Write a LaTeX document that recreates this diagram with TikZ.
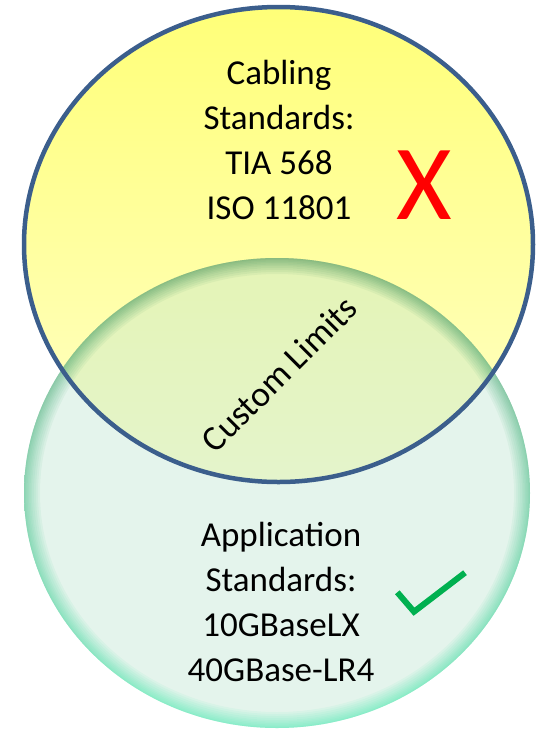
\documentclass[tikz,border=0pt]{standalone}
\usepackage{fontspec}
\setmainfont{Carlito}
\definecolor{yelTop}{RGB}{255,255,120}
\definecolor{yelBot}{RGB}{255,255,200}
\definecolor{mintC}{RGB}{191,229,209}
\definecolor{glowTop}{RGB}{60,140,85}
\definecolor{glowBot}{RGB}{60,235,175}
\definecolor{bordBlue}{RGB}{59,94,140}
\definecolor{chkGreen}{RGB}{0,176,80}
\tikzset{
  lbl/.style={inner sep=0pt, align=center, font=\fontsize{35}{45}\selectfont},
  diag/.style={inner sep=0pt, font=\fontsize{35.5}{42}\selectfont, rotate=45}
}
\begin{document}
\begin{tikzpicture}[x=1pt,y=-1pt]
\useasboundingbox (0,0) rectangle (541,732);
\coordinate (cu) at (278.5,244.5);
\coordinate (cl) at (277,493);
% upper circle fill
\shade[top color=yelTop, bottom color=yelBot] (cu) ellipse [x radius=254.5, y radius=237.5];
% lower circle fill
\fill[mintC, fill opacity=0.42] (cl) ellipse [x radius=253, y radius=235];
% lower circle inner glow
\begin{scope}
\clip (cl) ellipse [x radius=253, y radius=235];
\foreach \w in {1,2,3.5,5,6.5,8,10,12,14,16}{
  \pgfmathsetmacro{\rx}{253-\w}
  \pgfmathsetmacro{\ry}{235-\w}
  \shade[top color=glowTop, bottom color=glowBot, fill opacity=0.07, even odd rule]
    (cl) ellipse [x radius=253, y radius=235]
    (cl) ellipse [x radius=\rx, y radius=\ry];
}
\end{scope}
% upper circle border
\draw[bordBlue, line width=4.5pt] (cu) ellipse [x radius=254.5, y radius=237.5];
% texts
\node[lbl, anchor=north] (cab) at (279,60) {Cabling\\Standards:\\TIA 568\\ISO 11801};
\node[lbl, anchor=north] (app) at (281,521.5) {Application\\Standards:\\10GBaseLX\\40GBase-LR4};
\node[diag] (cust) at (279,374) {Custom Limits};
\node[inner sep=0pt, anchor=base, text=red, font=\fontsize{107}{110}\selectfont] (xm) at (424.5,219) {X};
% check mark
\draw[chkGreen, line width=6pt, line join=miter] (397.3,592.3) -- (414,611.7) -- (465,572.7);
\end{tikzpicture}
\end{document}
